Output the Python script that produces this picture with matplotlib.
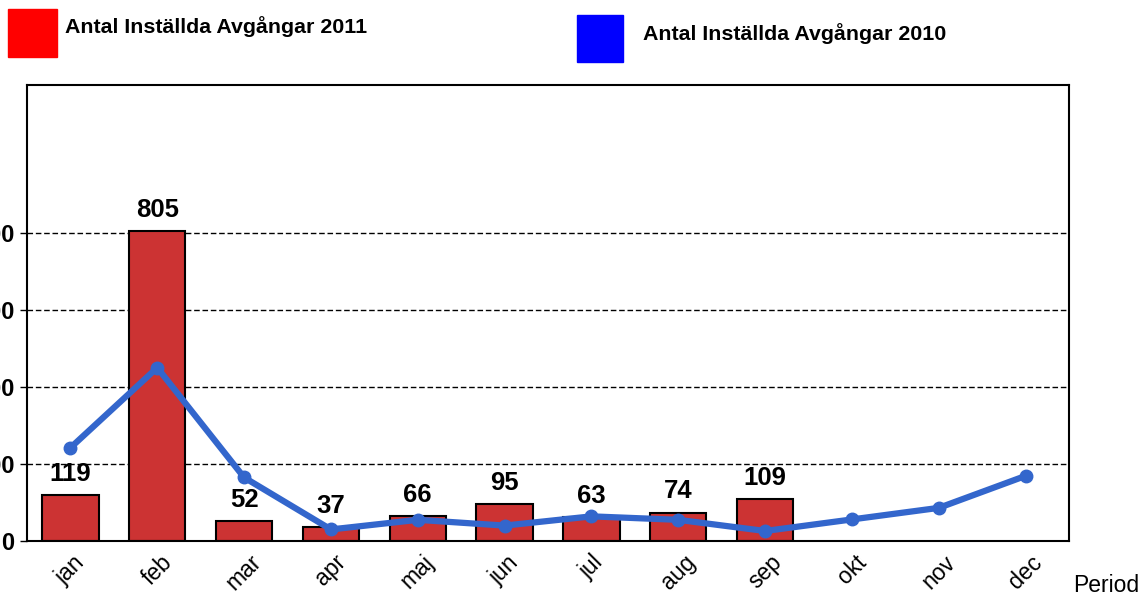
import matplotlib
matplotlib.use("Agg")
import matplotlib.pyplot as plt
from matplotlib.patches import Rectangle

plt.rcParams['font.family'] = ['Liberation Sans', 'DejaVu Sans']

months = ['jan', 'feb', 'mar', 'apr', 'maj', 'jun', 'jul', 'aug', 'sep', 'okt', 'nov', 'dec']
values_2011 = [119, 805, 52, 37, 66, 95, 63, 74, 109]
values_2010 = [242, 450, 165, 30, 55, 40, 64, 55, 26, 56, 86, 169]
yticks = [0, 200, 400, 600, 800]
label_2011 = 'Antal Inställda Avgångar 2011'
label_2010 = 'Antal Inställda Avgångar 2010'

W, H = 1145, 597
fig = plt.figure(figsize=(W / 100, H / 100), dpi=100)
ax = fig.add_axes([27 / W, (H - 541) / H, (1069 - 27) / W, (541 - 85) / H])

x = list(range(len(months)))
bars = ax.bar(x[:len(values_2011)], values_2011, width=0.65, color='#CC3333',
              edgecolor='black', linewidth=1.5, zorder=2)
for xi, v in zip(x, values_2011):
    ax.annotate(str(v), (xi, v), xytext=(0, 6.5), textcoords='offset points',
                ha='center', va='bottom', fontsize=18.5, fontweight='bold')

ax.plot(x, values_2010, color='#3366CC', linewidth=4.5, marker='o',
        markersize=9, zorder=3)

ax.set_xlim(-0.5, len(months) - 0.5)
ax.set_ylim(0, 1184)
ax.set_yticks(yticks)
ax.set_yticklabels([str(t) for t in yticks], fontsize=17, fontweight='bold')
ax.tick_params(axis='y', length=5, width=1, pad=4, direction='out')
ax.set_xticks(x)
ax.set_xticklabels(months, rotation=45, fontsize=16.5, ha='center', va='top')
ax.tick_params(axis='x', length=0, pad=7)
for yt in yticks[1:]:
    ax.axhline(yt, color='black', linestyle=(0, (4, 2)), linewidth=1, zorder=1)
for s in ax.spines.values():
    s.set_linewidth(1.5)
    s.set_color('black')

fig.text(1073 / W, 1 - 585 / H, 'Period', fontsize=16.5, ha='left', va='center')

# legend
fig.patches.append(Rectangle((8 / W, 1 - 57 / H), 49 / W, 48 / H,
                             transform=fig.transFigure, color='#FF0000'))
fig.text(65 / W, 1 - 27 / H, label_2011, fontsize=15.4, fontweight='bold',
         ha='left', va='center')
fig.patches.append(Rectangle((577 / W, 1 - 62 / H), 46 / W, 47 / H,
                             transform=fig.transFigure, color='#0000FF'))
fig.text(643 / W, 1 - 34 / H, label_2010, fontsize=15.4, fontweight='bold',
         ha='left', va='center')

fig.savefig('out.png', dpi=100)
